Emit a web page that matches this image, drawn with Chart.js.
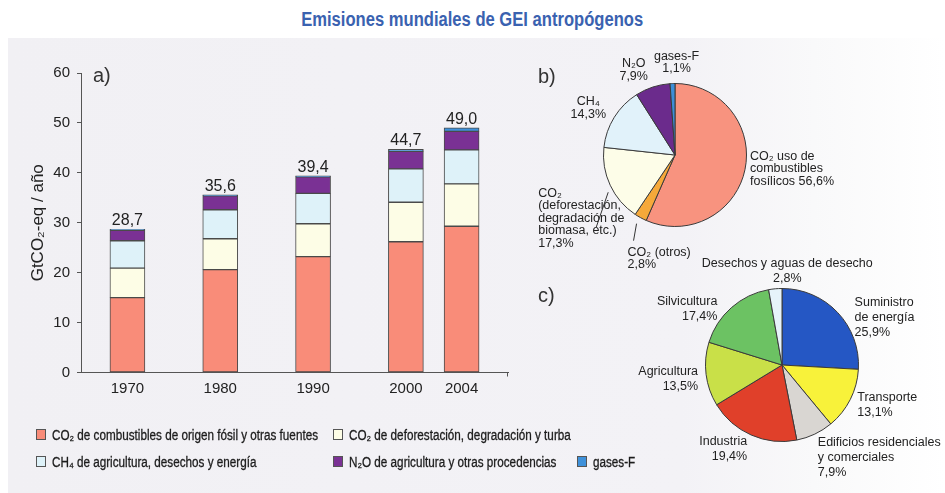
<!DOCTYPE html>
<html>
<head>
<meta charset="utf-8">
<script src="https://cdn.jsdelivr.net/npm/chart.js@4.4.0/dist/chart.umd.min.js"></script>
<style>
  html, body { margin: 0; padding: 0; background: #fff; }
  #page { position: relative; width: 945px; height: 493px; overflow: hidden; font-family: "Liberation Sans", Arial, sans-serif; }
  #panel { position: absolute; left: 8px; top: 38px; right: 0; bottom: 0;
           background: linear-gradient(90deg, #f1f0f4 0%, #f3f2f6 72%, #f9f9fa 86%, #fff 100%); }
  #title { position: absolute; left: 0; width: 945px; top: 8px; text-align: center; line-height: 22px; }
  #title span { display: inline-block; font: bold 20px "Liberation Sans", Arial, sans-serif; color: #3a62b0; transform-origin: center; }
  canvas { position: absolute; left: 0; top: 0; pointer-events: none; }
  .tag { position: absolute; font-size: 20px; line-height: 20px; color: #333; }
  .leg { position: absolute; font: 14px "Liberation Sans", Arial, sans-serif; line-height: 14px; color: #1c1c1c; white-space: nowrap;
         transform-origin: left center; -webkit-text-stroke: 0.3px #1c1c1c; }
  .sw { position: absolute; width: 8px; height: 9px; border: 1px solid #555; }
</style>
</head>
<body>
<div id="page">
  <div id="panel"></div>
  <div id="title"><span>Emisiones mundiales de GEI antropógenos</span></div>
  <canvas id="bars" width="945" height="493"></canvas>
  <canvas id="pieB" width="945" height="493"></canvas>
  <canvas id="pieC" width="945" height="493"></canvas>
  <div class="tag" style="left:93px; top:65px;">a)</div>
  <div class="tag" style="left:538px; top:66px;">b)</div>
  <div class="tag" style="left:538px; top:285px;">c)</div>
  <div id="legend"></div>
</div>
<script>
// --- panel a: stacked bars (GtCO2-eq / año)
var years = ['1970', '1980', '1990', '2000', '2004'];
var co2Fossil = [15.0, 20.6, 23.2, 26.2, 29.3];
var co2Defor = [5.9, 6.2, 6.6, 7.9, 8.5];
var ch4 = [5.5, 5.8, 6.1, 6.7, 6.8];
var n2o = [2.1, 2.8, 3.3, 3.5, 3.7];
var fGases = [0.2, 0.2, 0.2, 0.4, 0.7];
var totals = [28.7, 35.6, 39.4, 44.7, 49.0];
var yTicks = [0, 10, 20, 30, 40, 50, 60];

var seriesNames = [
  'CO₂ de combustibles de origen fósil y otras fuentes',
  'CO₂ de deforestación, degradación y turba',
  'CH₄ de agricultura, desechos y energía',
  'N₂O de agricultura y otras procedencias',
  'gases-F'
];

// --- panel b: share by gas in 2004 (%)
var gasLabels = [
  ['CO₂ uso de', 'combustibles', 'fosílicos {v}'],
  ['CO₂ (otros)', '{v}'],
  ['CO₂', '(deforestación,', 'degradación de', 'biomasa, etc.)', '{v}'],
  ['CH₄', '{v}'],
  ['N₂O', '{v}'],
  ['gases-F', '{v}']
];
var gasShares = [56.6, 2.8, 17.3, 14.3, 7.9, 1.1];

// --- panel c: share by sector in 2004 (%)
var sectorLabels = [
  ['Suministro', 'de energía', '{v}'],
  ['Transporte', '{v}'],
  ['Edificios residenciales', 'y comerciales', '{v}'],
  ['Industria', '{v}'],
  ['Agricultura', '{v}'],
  ['Silvicultura', '{v}'],
  ['Desechos y aguas de desecho', '{v}']
];
var sectorShares = [25.9, 13.1, 7.9, 19.4, 13.5, 17.4, 2.8];

// colours
var seriesColors = ['#f98c79', '#fdfde6', '#def2f9', '#7a3194', '#3f91da'];
var gasColors = ['#f8937f', '#f6a93a', '#fdfde8', '#e1f2fa', '#6b2b8c', '#3d8fd8'];
var sectorColors = ['#2557c4', '#f8f23a', '#d9d6d2', '#e0402a', '#c9e048', '#6cc263', '#e6f3fa'];

// layout: slot index of each year on a 23-slot category axis (2004 sits closer to 2000)
var slotOf = [2, 7, 12, 17, 20];
var slotCount = 23;

Chart.defaults.font.family = '"Liberation Sans", Arial, sans-serif';
Chart.defaults.color = '#222';

function fmt(v) { return v.toFixed(1).replace('.', ','); }

var xLabels = [];
for (var i = 0; i < slotCount; i++) xLabels.push('');
slotOf.forEach(function(s, i) { xLabels[s] = years[i]; });

function spread(values) {
  var out = [];
  for (var i = 0; i < slotCount; i++) out.push(null);
  slotOf.forEach(function(s, i) { out[s] = values[i]; });
  return out;
}

var barTotals = {
  id: 'barTotals',
  afterDatasetsDraw: function(chart) {
    var ctx = chart.ctx, xs = chart.scales.x, ys = chart.scales.y;
    ctx.save();
    ctx.font = '16px "Liberation Sans", Arial, sans-serif';
    ctx.fillStyle = '#222';
    ctx.textAlign = 'center';
    ctx.textBaseline = 'alphabetic';
    totals.forEach(function(t, i) {
      ctx.fillText(fmt(t), xs.getPixelForValue(slotOf[i]), ys.getPixelForValue(t) - 4);
    });
    ctx.strokeStyle = '#555';
    ctx.lineWidth = 1;
    ctx.beginPath();
    ctx.moveTo(Math.round(xs.right) - 0.5, xs.top);
    ctx.lineTo(Math.round(xs.right) - 0.5, xs.top + 4);
    ctx.stroke();
    ctx.restore();
  }
};

new Chart(document.getElementById('bars'), {
  type: 'bar',
  data: {
    labels: xLabels,
    datasets: [co2Fossil, co2Defor, ch4, n2o, fGases].map(function(vals, i) {
      return {
        label: seriesNames[i],
        data: spread(vals),
        backgroundColor: seriesColors[i],
        borderColor: '#4a4a4a',
        borderWidth: 1,
        borderSkipped: false,
        barThickness: 35
      };
    })
  },
  options: {
    responsive: false,
    animation: false,
    layout: { padding: { left: 0, top: 73, right: 437, bottom: 0 } },
    plugins: { legend: { display: false }, tooltip: { enabled: false } },
    scales: {
      x: {
        stacked: true,
        offset: true,
        grid: { display: false, drawTicks: false },
        border: { color: '#555' },
        ticks: { autoSkip: false, maxRotation: 0, padding: 7, font: { size: 15 } },
        afterFit: function(s) { s.height = 120.5; }
      },
      y: {
        stacked: true,
        min: yTicks[0],
        max: yTicks[yTicks.length - 1],
        afterBuildTicks: function(s) { s.ticks = yTicks.map(function(v) { return { value: v }; }); },
        ticks: { padding: 7, font: { size: 15 } },
        grid: { drawOnChartArea: false, tickLength: 4, color: '#555' },
        border: { color: '#555' },
        title: { display: true, text: 'GtCO₂-eq / año', font: { size: 17 }, padding: { top: 28 } },
        afterFit: function(s) { s.width = 81; }
      }
    }
  },
  plugins: [barTotals]
});

// pie label placement relative to each slice's outer mid point
function pieLabels(lines, values, place, fontSize, lineH) {
  return {
    id: 'pieLabels',
    afterDatasetsDraw: function(chart) {
      var ctx = chart.ctx;
      var arcs = chart.getDatasetMeta(0).data;
      ctx.save();
      ctx.font = fontSize + 'px "Liberation Sans", Arial, sans-serif';
      ctx.fillStyle = '#222';
      ctx.strokeStyle = '#333';
      ctx.lineWidth = 1;
      ctx.textBaseline = 'middle';
      arcs.forEach(function(arc, i) {
        var p = arc.getProps(['x', 'y', 'startAngle', 'endAngle', 'outerRadius'], true);
        var mid = (p.startAngle + p.endAngle) / 2;
        var ox = p.x + Math.cos(mid) * p.outerRadius;
        var oy = p.y + Math.sin(mid) * p.outerRadius;
        var pl = place[i];
        var txt = lines[i].map(function(l) { return l.replace('{v}', fmt(values[i]) + '%'); });
        var y0 = oy + pl.dy - (txt.length - 1) * lineH / 2;
        ctx.textAlign = pl.align;
        txt.forEach(function(l, k) { ctx.fillText(l, ox + pl.dx, y0 + k * lineH); });
        if (pl.leader) {
          ctx.beginPath();
          ctx.moveTo(ox + pl.leader[0], oy + pl.leader[1]);
          ctx.lineTo(ox + pl.leader[2], oy + pl.leader[3]);
          ctx.stroke();
        }
      });
      ctx.restore();
    }
  };
}

var gasPlace = [
  { dx: 5, dy: -1, align: 'left' },
  { dx: -13, dy: 41, align: 'left', leader: [-4, 6, -7, 23] },
  { dx: -72, dy: 33, align: 'left', leader: [-2, 7, -14, 42] },
  { dx: -26, dy: -9, align: 'center' },
  { dx: -19, dy: -17, align: 'center' },
  { dx: 4, dy: -21, align: 'center' }
];
var sectorPlace = [
  { dx: 17, dy: 5, align: 'left' },
  { dx: 7, dy: 6, align: 'left' },
  { dx: 3, dy: 23, align: 'left' },
  { dx: -4, dy: 14, align: 'right' },
  { dx: -8, dy: 5, align: 'right' },
  { dx: -14, dy: 1, align: 'right' },
  { dx: 12, dy: -18, align: 'center' }
];

function pie(id, values, colors, padding, labelPlugin) {
  new Chart(document.getElementById(id), {
    type: 'pie',
    data: {
      labels: values.map(function(v, i) { return String(i); }),
      datasets: [{ data: values, backgroundColor: colors, borderColor: '#3a3a3a', borderWidth: 1 }]
    },
    options: {
      responsive: false,
      animation: false,
      layout: { padding: padding },
      plugins: { legend: { display: false }, tooltip: { enabled: false } }
    },
    plugins: [labelPlugin]
  });
}

pie('pieB', gasShares, gasColors, { left: 603, right: 198, top: 83, bottom: 266 },
    pieLabels(gasLabels, gasShares, gasPlace, 12.5, 12.5));
pie('pieC', sectorShares, sectorColors, { left: 705, right: 86, top: 288, bottom: 51 },
    pieLabels(sectorLabels, sectorShares, sectorPlace, 12.5, 15));

// legend (HTML), condensed to the reference's narrow type
var legendPos = [[36, 429], [333, 429], [36, 456], [333, 456], [577, 456]];
var legend = document.getElementById('legend');
var legTexts = [];
seriesNames.forEach(function(name, i) {
  var sw = document.createElement('div');
  sw.className = 'sw';
  sw.style.left = legendPos[i][0] + 'px';
  sw.style.top = legendPos[i][1] + 'px';
  sw.style.background = seriesColors[i];
  legend.appendChild(sw);
  var t = document.createElement('div');
  t.className = 'leg';
  t.style.left = (legendPos[i][0] + 16) + 'px';
  t.style.top = (legendPos[i][1] - 1) + 'px';
  t.textContent = name;
  legend.appendChild(t);
  legTexts.push(t);
});
var legScale = 266 / legTexts[0].getBoundingClientRect().width;
legTexts.forEach(function(t) { t.style.transform = 'scaleX(' + legScale + ')'; });

var titleSpan = document.querySelector('#title span');
titleSpan.style.transform = 'scaleX(' + (342 / titleSpan.getBoundingClientRect().width) + ')';
</script>
</body>
</html>
